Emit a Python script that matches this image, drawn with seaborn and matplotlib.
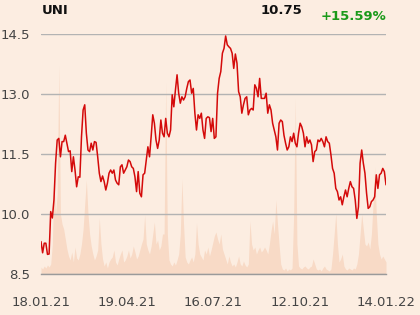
import matplotlib
matplotlib.use("Agg")
import matplotlib.pyplot as plt
import seaborn as sns
import numpy as np
import pandas as pd

# ---- data ----
price = [
    9.31, 9.03, 9.27, 9.27, 8.99, 9.00, 10.06, 9.90, 10.35, 11.27,
    11.85, 11.89, 11.43, 11.81, 11.81, 11.97, 11.77, 11.56, 11.58, 11.06,
    11.43, 11.10, 10.68, 10.93, 10.92, 11.93, 12.60, 12.73, 12.02, 11.60,
    11.56, 11.77, 11.60, 11.81, 11.79, 11.43,
    11.02, 10.81, 10.95, 10.81, 10.60, 10.77, 11.02, 11.10, 11.02, 11.10,
    10.85, 10.77, 10.73, 11.18, 11.23, 11.02, 11.10, 11.18, 11.35, 11.31,
    11.18, 11.14, 10.93, 10.56, 11.06, 10.52, 10.43, 10.98, 11.02, 11.35,
    11.68, 11.43, 11.93, 12.48, 12.27, 11.85,
    11.64, 11.85, 12.35, 12.02, 11.93, 12.39, 12.02, 11.93, 12.10, 12.98,
    12.68, 13.10, 13.48, 13.02, 12.77, 12.93, 12.85, 12.93, 13.14, 13.31,
    13.35, 13.02, 13.14, 12.52, 12.10, 12.48, 12.39, 12.52, 12.10, 11.89,
    12.39, 12.43, 12.41, 12.06, 12.39, 11.89, 11.93,
    13.02, 13.39, 13.56, 14.02, 14.14, 14.45, 14.23, 14.18, 14.14, 14.02,
    13.64, 14.00, 13.77, 13.06, 12.93, 12.52, 12.73, 12.89, 12.93, 12.48,
    12.60, 12.64, 12.60, 13.23, 13.14, 12.93, 13.39, 12.89, 12.89, 12.89,
    13.02, 12.52, 12.73, 12.60, 12.27, 12.10, 11.93, 11.60,
    12.27, 12.35, 12.31, 11.97, 11.77, 11.60, 11.68, 11.93, 11.81, 12.02,
    11.77, 11.68, 12.02, 12.27, 12.18, 12.02, 11.68, 11.93, 11.77, 11.85,
    11.73, 11.31, 11.56, 11.60, 11.85, 11.81, 11.89, 11.81, 11.68, 11.93,
    11.81, 11.77, 11.48, 11.14, 11.02, 10.64,
    10.56, 10.35, 10.43, 10.23, 10.43, 10.60, 10.43, 10.64, 10.81, 10.68,
    10.64, 10.35, 9.89, 10.18, 11.27, 11.60, 11.27, 11.02, 10.52, 10.14,
    10.18, 10.31, 10.35, 10.43, 10.98, 10.64, 10.98, 11.02, 11.14, 11.06,
    10.73,
]

volume = [
    7, 5, 8, 6, 9, 7, 10, 30, 92, 60, 80, 209, 60,
    50, 45, 35, 25,
    18, 14, 22, 12, 27, 16, 14, 20,
    30, 45, 70, 94,
    60, 40, 28,
    20, 14, 18, 24,
    56, 30,
    15, 8, 12, 6,
    12, 15, 17, 24, 12, 9, 15, 20, 24, 12, 14,
    18, 24, 16, 20, 28, 22, 15, 18, 24,
    30, 35, 59, 30,
    24, 20, 28, 40, 52,
    30, 34, 24, 28, 40,
    40, 192, 40,
    14, 10, 8, 12, 9, 14, 20,
    40, 95, 50,
    17, 12, 10, 14, 17, 12, 20,
    51, 30,
    20, 17, 14, 24, 20, 27, 18,
    24, 31, 38, 42, 35, 30,
    40, 25, 20, 15, 10, 18, 12, 8,
    10, 7, 12, 18, 10, 8, 13, 9, 7, 10,
    53, 30,
    24, 27, 20, 24, 27, 22, 24, 27, 24, 20,
    30, 43, 53, 40, 74, 50,
    29,
    10, 5, 4, 6, 3, 5, 4, 6,
    60, 176, 30,
    8, 6, 5, 7, 8, 6, 5, 7, 8,
    15, 10,
    5, 4, 5, 3, 6, 8, 5, 4, 3, 5,
    20, 40, 61,
    30, 12, 15, 20,
    8, 5, 4, 6, 5, 4, 6, 5,
    10, 20, 40, 60,
    45, 30, 28, 32,
    25, 40, 70, 107,
    60, 30, 20, 15, 18, 15, 12,
]

x_labels = ["18.01.21", "19.04.21", "16.07.21", "12.10.21", "14.01.22"]
y_ticks = [8.5, 10.0, 11.5, 13.0, 14.5]
title = "UNI"
last_value = "10.75"
change = "+15.59%"

n = min(len(price), len(volume))
df = pd.DataFrame({"day": np.arange(n), "price": price[:n], "volume": volume[:n]})

# ---- style ----
bg = "#fcede1"
sns.set_theme(style="white", rc={"axes.facecolor": bg, "figure.facecolor": bg})
plt.rcParams["font.family"] = ["DejaVu Sans"]

fig = plt.figure(figsize=(4.2, 3.15), dpi=100)
ax = fig.add_axes([41 / 420, 1 - 274 / 315, 345 / 420, 240 / 315])
axv = ax.twinx()

axv.fill_between(df["day"], 0, df["volume"], color="#f8dac6", linewidth=0)
axv.set_ylim(0, 240)
axv.set_yticks([])
for s in axv.spines.values():
    s.set_visible(False)

ax.set_zorder(axv.get_zorder() + 1)
ax.patch.set_visible(False)
axv.patch.set_facecolor(bg)

sns.lineplot(data=df, x="day", y="price", ax=ax, color="#d40a0a", linewidth=1.1)

ax.set_xlim(0, n - 1)
ax.set_ylim(8.5, 14.5)
ax.set_yticks(y_ticks)
ax.set_yticklabels([f"{v:.1f}" for v in y_ticks])
ax.set_xticks(np.linspace(0, n - 1, len(x_labels)))
ax.set_xticklabels(x_labels)
ax.set_xlabel("")
ax.set_ylabel("")
ax.grid(axis="y", color="#b3b3b3", linewidth=1)
ax.grid(axis="x", visible=False)
for k in ["top", "right", "left"]:
    ax.spines[k].set_visible(False)
ax.spines["bottom"].set_color("#9a9a9a")
ax.spines["bottom"].set_linewidth(1)
ax.tick_params(axis="y", length=0, pad=8, labelsize=9.5, labelcolor="#444444")
ax.tick_params(axis="x", length=10, width=1, color="#8a8a8a", pad=6,
               labelsize=9.5, labelcolor="#444444", direction="out")

fig.text(42 / 420, 1 - 11 / 315, title, fontsize=9.5, fontweight="bold",
         color="#111111", ha="left", va="center")
fig.text(302 / 420, 1 - 10 / 315, last_value, fontsize=9.5, fontweight="bold",
         color="#111111", ha="right", va="center")
fig.text(386 / 420, 1 - 16.5 / 315, change, fontsize=9.5, fontweight="bold",
         color="#1a9a1a", ha="right", va="center")

fig.savefig("out.png", dpi=100, facecolor=bg)
